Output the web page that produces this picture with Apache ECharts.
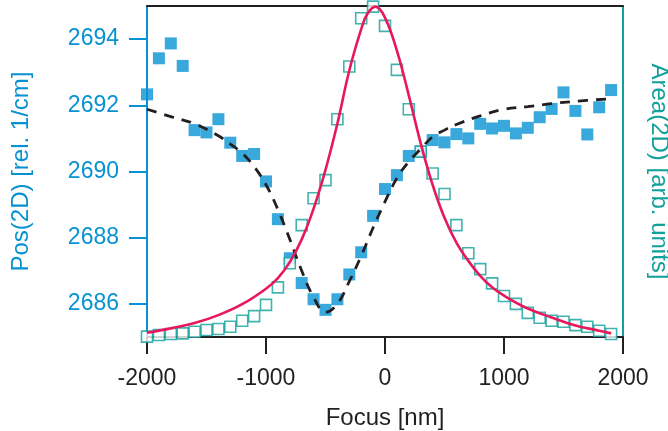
<!DOCTYPE html>
<html>
<head>
<meta charset="utf-8">
<script src="https://cdn.jsdelivr.net/npm/echarts@6/dist/echarts.min.js"></script>
<style>
html,body{margin:0;padding:0;background:#fff;}
#c{width:668px;height:431px;}
</style>
</head>
<body>
<div id="c"></div>
<script>
// Focus positions [nm]
const focusNm = [-2000,-1900,-1800,-1700,-1600,-1500,-1400,-1300,-1200,-1100,
  -1000,-900,-800,-700,-600,-500,-400,-300,-200,-100,
  0,100,200,300,400,500,600,700,800,900,
  1000,1100,1200,1300,1400,1500,1600,1700,1800,1900];
// Pos(2D) [rel. 1/cm] - filled squares
const pos2D = [2692.33,2693.42,2693.87,2693.19,2691.25,2691.18,2691.58,2690.87,2690.47,2690.53,
  2689.70,2688.56,2687.38,2686.63,2686.14,2685.82,2686.14,2686.89,2687.56,2688.66,
  2689.47,2689.89,2690.47,2690.60,2690.95,2690.88,2691.13,2691.00,2691.44,2691.30,
  2691.38,2691.15,2691.32,2691.64,2691.89,2692.39,2691.83,2691.12,2691.94,2692.46];
// Area(2D) [arb. units] - open squares
const area2D = [0.1,0.6,0.9,1.1,1.6,2.1,2.4,3.1,4.9,6.3,
  9.7,15.0,22.3,33.8,41.9,47.4,65.8,81.7,96.3,99.8,
  94.0,80.7,68.8,56.0,49.4,43.2,33.8,25.3,20.5,16.2,
  12.4,10.0,7.3,5.8,4.9,4.6,3.6,3.1,1.9,0.9];
// Fit of Pos(2D) (dashed)
const posFitX = [-2000,-1800,-1600,-1400,-1300,-1200,-1100,-1000,-900,-800,-700,-600,-500,-400,-300,-200,-100,0,100,200,300,400,500,600,800,1000,1200,1400,1600,1900];
const posFitY = [2691.88,2691.66,2691.44,2691.08,2690.83,2690.55,2690.15,2689.60,2688.85,2687.95,2687.00,2686.20,2685.75,2686.00,2686.68,2687.45,2688.30,2689.09,2689.80,2690.30,2690.68,2691.05,2691.25,2691.42,2691.68,2691.88,2691.96,2692.05,2692.12,2692.20];
// Fit of Area(2D) (pink)
const areaFitX = [-2000,-1800,-1600,-1400,-1200,-1000,-900,-800,-700,-600,-500,-400,-300,-200,-150,-80,0,100,200,300,400,500,600,700,800,900,1000,1200,1400,1600,1800,1900];
const areaFitY = [1.3,2.6,4.2,6.6,9.9,14.6,17.8,22.6,29.5,38.8,50.5,64.5,80.5,93.0,97.5,99.8,96.5,86.5,73.0,58.5,46.0,36.0,28.5,23.0,18.5,15.0,12.5,8.6,5.9,3.5,1.9,1.1];
// Axis ticks
const xTicks = [-2000,-1000,0,1000,2000];
const posTicks = [2686,2688,2690,2692,2694];

const BLUE = '#0792d3';
const TEAL = '#12a09a';
const PINK = '#e8185c';
const DARK = '#231f20';
const FONT = 'Liberation Sans, Arial, sans-serif';

const zip = (a,b) => a.map((v,i)=>[v,b[i]]);
const plain = v => String(v);

const chart = echarts.init(document.getElementById('c'), null, {renderer:'canvas'});
chart.setOption({
  animation: false,
  backgroundColor: '#fff',
  grid: {left:147, right:45, top:6, bottom:94, containLabel:false, outerBoundsMode:'none'},
  xAxis: [{
    type:'value', min:-2000, max:2000, interval:1000, position:'bottom',
    name:'Focus [nm]', nameLocation:'middle', nameGap:69,
    nameTextStyle:{color:DARK, fontSize:24, fontFamily:FONT},
    axisLine:{show:true, onZero:false, lineStyle:{color:DARK, width:2}},
    axisTick:{show:true, inside:false, length:17, customValues:xTicks, lineStyle:{color:DARK, width:2}},
    axisLabel:{color:DARK, fontSize:23, fontFamily:FONT, margin:30, customValues:xTicks, formatter:plain},
    splitLine:{show:false}
  },{
    type:'value', min:-2000, max:2000, position:'top',
    axisLine:{show:true, onZero:false, lineStyle:{color:DARK, width:2}},
    axisTick:{show:false}, axisLabel:{show:false}, splitLine:{show:false}
  }],
  yAxis: [{
    type:'value', min:2685, max:2695, position:'left',
    name:'Pos(2D) [rel. 1/cm]', nameLocation:'middle', nameGap:114, nameRotate:90,
    nameTextStyle:{color:BLUE, fontSize:24, fontFamily:FONT},
    axisLine:{show:true, onZero:false, lineStyle:{color:BLUE, width:2}},
    axisTick:{show:true, inside:false, length:18, customValues:posTicks, lineStyle:{color:BLUE, width:2}},
    axisLabel:{color:BLUE, fontSize:23, fontFamily:FONT, margin:28, customValues:posTicks, formatter:plain},
    splitLine:{show:false}
  },{
    type:'value', min:0, max:100, position:'right',
    name:'Area(2D) [arb. units]', nameLocation:'middle', nameGap:24, nameRotate:-90,
    nameTextStyle:{color:TEAL, fontSize:24, fontFamily:FONT},
    axisLine:{show:true, onZero:false, lineStyle:{color:TEAL, width:2}},
    axisTick:{show:false}, axisLabel:{show:false}, splitLine:{show:false}
  }],
  series: [{
    type:'scatter', name:'Pos', xAxisIndex:0, yAxisIndex:0,
    data: zip(focusNm, pos2D), symbol:'rect', symbolSize:12,
    itemStyle:{color:BLUE}, z:2
  },{
    type:'scatter', name:'Area', xAxisIndex:0, yAxisIndex:1,
    data: zip(focusNm, area2D), symbol:'rect', symbolSize:11,
    itemStyle:{color:'#ffffff', borderColor:TEAL, borderWidth:1.6}, z:3
  },{
    type:'line', name:'PosFit', xAxisIndex:0, yAxisIndex:0,
    data: zip(posFitX, posFitY), smooth:0.4, showSymbol:false,
    lineStyle:{color:DARK, width:2.8, type:[10,8]}, z:4
  },{
    type:'line', name:'AreaFit', xAxisIndex:0, yAxisIndex:1,
    data: zip(areaFitX, areaFitY), smooth:0.4, showSymbol:false,
    lineStyle:{color:PINK, width:2.6}, z:5
  }]
});
</script>
</body>
</html>
